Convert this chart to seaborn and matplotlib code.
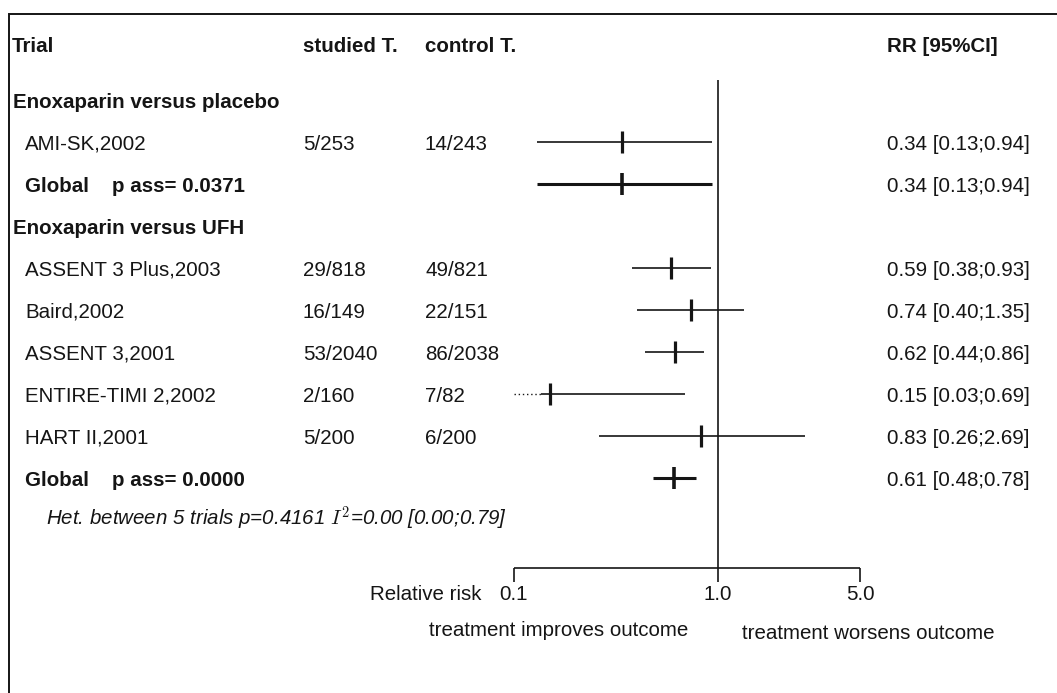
import matplotlib
matplotlib.use("Agg")
import matplotlib.pyplot as plt
import matplotlib.transforms as mtransforms
from matplotlib.patches import Rectangle
import numpy as np
import pandas as pd
import seaborn as sns

# ---- data -------------------------------------------------------------
groups = ["Enoxaparin versus placebo", "Enoxaparin versus UFH"]
trials = ["AMI-SK,2002", "ASSENT 3 Plus,2003", "Baird,2002",
          "ASSENT 3,2001", "ENTIRE-TIMI 2,2002", "HART II,2001"]
trial_group = [0, 1, 1, 1, 1, 1]
studied = ["5/253", "29/818", "16/149", "53/2040", "2/160", "5/200"]
control = ["14/243", "49/821", "22/151", "86/2038", "7/82", "6/200"]
rr = [0.34, 0.59, 0.74, 0.62, 0.15, 0.83]
rr_lo = [0.13, 0.38, 0.40, 0.44, 0.03, 0.26]
rr_hi = [0.94, 0.93, 1.35, 0.86, 0.69, 2.69]

pooled_p = ["0.0371", "0.0000"]
pooled_rr = [0.34, 0.61]
pooled_lo = [0.13, 0.48]
pooled_hi = [0.94, 0.78]

het_label = "Het. between 5 trials p=0.4161 $I^2$=0.00 [0.00;0.79]"
axis_ticks = [0.1, 1.0, 5.0]
axis_tick_labels = ["0.1", "1.0", "5.0"]

# ---- style ------------------------------------------------------------
sns.set_theme(style="white")
plt.rcParams["font.family"] = ["Liberation Sans", "DejaVu Sans"]
plt.rcParams["mathtext.fontset"] = "cm"
FS = 14.8
INK = "#151515"

W, H = 1057, 693
fig = plt.figure(figsize=(W / 100, H / 100), dpi=100)
fig.patch.set_facecolor("white")

# forest panel: log axis from 0.1 to 5.0, rows on a pixel-aligned grid
X0_PX, X1_PX = 514, 860
ROW0_PX, ROW_STEP = 100, 42.0
ax = fig.add_axes([X0_PX / W, 0, (X1_PX - X0_PX) / W, 1])
ax.set_xscale("log")


def row_of(px):
    return (px - ROW0_PX) / ROW_STEP


BASE = 7.5 / ROW_STEP  # baseline offset below row centre
tr = mtransforms.blended_transform_factory(fig.transFigure, ax.transData)


def put(xpx, row, s, **kw):
    kw.setdefault("fontsize", FS)
    kw.setdefault("color", INK)
    ax.text(xpx / W, row + BASE, s, transform=tr, va="baseline",
            clip_on=False, **kw)


# ---- build row layout -------------------------------------------------
study_rows, pooled_rows, group_rows = [], [], []
r = 0
for g in range(len(groups)):
    group_rows.append(r)
    r += 1
    for i, tg in enumerate(trial_group):
        if tg == g:
            study_rows.append(r)
            r += 1
    pooled_rows.append(r)
    r += 1
het_row = r

studies = pd.DataFrame({"row": study_rows, "rr": rr, "lo": rr_lo, "hi": rr_hi})
pooled = pd.DataFrame({"row": pooled_rows, "rr": pooled_rr,
                       "lo": pooled_lo, "hi": pooled_hi})

# ---- column headers ---------------------------------------------------
hdr = row_of(45)
put(12, hdr, "Trial", fontweight="bold")
put(303, hdr, "studied T.", fontweight="bold")
put(425, hdr, "control T.", fontweight="bold")
put(887, hdr, "RR [95%CI]", fontweight="bold")

# ---- text columns -----------------------------------------------------
for g, gr in enumerate(group_rows):
    put(13, gr, groups[g], fontweight="bold")
for i, sr in enumerate(study_rows):
    put(25, sr, trials[i])
    put(303, sr, studied[i])
    put(425, sr, control[i])
    put(887, sr, f"{rr[i]:.2f} [{rr_lo[i]:.2f};{rr_hi[i]:.2f}]")
for g, pr in enumerate(pooled_rows):
    put(25, pr, f"Global    p ass= {pooled_p[g]}", fontweight="bold")
    put(887, pr, f"{pooled_rr[g]:.2f} [{pooled_lo[g]:.2f};{pooled_hi[g]:.2f}]")
put(46, het_row - 2 / ROW_STEP, het_label, style="italic")

# ---- confidence intervals --------------------------------------------
xmin = axis_ticks[0]
fade = xmin * (axis_ticks[-1] / xmin) ** 0.078  # dotted stub for clipped CIs
for _, s in studies.iterrows():
    if s.lo < xmin:
        ax.hlines(s.row, xmin, fade, colors=INK, lw=1.0, linestyles=(0, (1, 2)))
        ax.hlines(s.row, fade, s.hi, colors=INK, lw=1.2)
    else:
        ax.hlines(s.row, s.lo, s.hi, colors=INK, lw=1.2)
ax.hlines(pooled.row, pooled.lo, pooled.hi, colors=INK, lw=2.2)

sns.scatterplot(data=studies, x="rr", y="row", marker="|", s=260,
                linewidth=2.3, color=INK, ax=ax, legend=False, zorder=3)
sns.scatterplot(data=pooled, x="rr", y="row", marker="|", s=260,
                linewidth=2.6, color=INK, ax=ax, legend=False, zorder=3)
ax.set_xlim(axis_ticks[0], axis_ticks[-1])
ax.set_ylim((H - ROW0_PX) / ROW_STEP, -ROW0_PX / ROW_STEP)
ax.axis("off")

# line of no effect
ax.vlines(1.0, row_of(80), row_of(568), colors=INK, lw=1.2)

# ---- relative-risk axis -----------------------------------------------
ax.hlines(row_of(568), axis_ticks[0], axis_ticks[-1], colors=INK, lw=1.2,
          clip_on=False)
ax.vlines(axis_ticks, row_of(568), row_of(582), colors=INK, lw=1.2,
          clip_on=False)
for t, lab in zip(axis_ticks, axis_tick_labels):
    ax.text(t, row_of(600), lab, ha="center", va="baseline", fontsize=FS,
            color=INK, clip_on=False)
put(481, row_of(600) - BASE, "Relative risk", ha="right")
put(429, row_of(636) - BASE, "treatment improves outcome")
put(742, row_of(639) - BASE, "treatment worsens outcome")

# ---- outer frame (open to the right and bottom) -----------------------
fig.add_artist(Rectangle((9 / W, -0.05), 1.2, 1 - 14 / H + 0.05,
                         transform=fig.transFigure, fill=False,
                         lw=1.4, ec=INK))

fig.savefig("out.png", dpi=100, facecolor="white")
